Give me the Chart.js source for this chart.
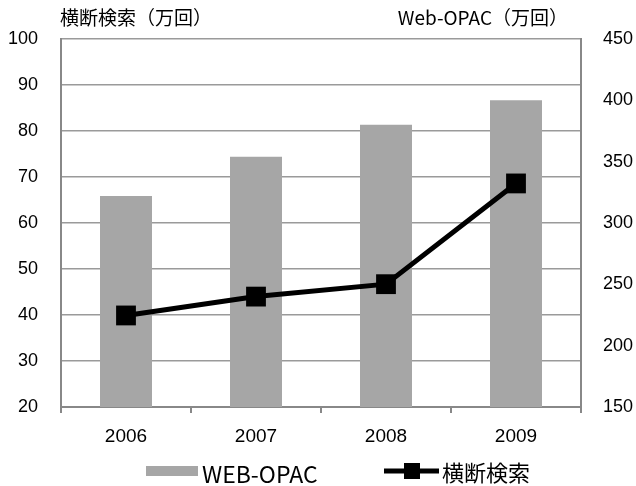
<!DOCTYPE html>
<html>
<head>
<meta charset="utf-8">
<script src="https://cdn.jsdelivr.net/npm/chart.js@4"></script>
<style>
    body { margin: 0; background: #fff; }
</style>
</head>
<body>
<canvas id="chart" width="636" height="486"></canvas>
<script>
const years = ["2006", "2007", "2008", "2009"];
const webOpac = [322, 354, 380, 400];        // 万回, right axis
const crossSearch = [39.9, 44.0, 46.7, 68.6]; // 万回, left axis

const leftTitle = "横断検索（万回）";
const rightTitle = "Web-OPAC（万回）";
const barLabel = "WEB-OPAC";
const lineLabel = "横断検索";

const numFont = { family: "'Liberation Sans', 'Noto Sans CJK JP'", size: 18 };
const jpFont = "'Noto Sans CJK JP', sans-serif";

// axis titles above the plot and the legend under it
const extras = {
    id: "extras",
    afterDraw(chart) {
        const ctx = chart.ctx;
        const area = chart.chartArea;
        ctx.save();
        ctx.fillStyle = "#000";
        ctx.font = "19px " + jpFont;
        ctx.textBaseline = "middle";
        ctx.textAlign = "left";
        ctx.fillText(leftTitle, area.left - 1, 18);
        ctx.textAlign = "right";
        ctx.fillText(rightTitle, area.right - 13, 18);

        // legend
        ctx.fillStyle = "#a6a6a6";
        ctx.fillRect(146, 466, 52, 10);
        ctx.fillStyle = "#000";
        ctx.font = "23px " + jpFont;
        ctx.textAlign = "left";
        ctx.fillText(barLabel, 202, 474);

        ctx.strokeStyle = "#000";
        ctx.lineWidth = 5;
        ctx.beginPath();
        ctx.moveTo(384, 471);
        ctx.lineTo(439, 471);
        ctx.stroke();
        ctx.fillRect(404, 463, 16, 16);
        ctx.font = "22px " + jpFont;
        ctx.fillText(lineLabel, 442, 473);
        ctx.restore();
    }
};

new Chart(document.getElementById("chart"), {
    type: "bar",
    data: {
        labels: years,
        datasets: [
            {
                type: "line",
                label: lineLabel,
                data: crossSearch,
                yAxisID: "y",
                order: 0,
                borderColor: "#000",
                borderWidth: 5,
                pointStyle: "rect",
                pointRadius: 14,
                pointBackgroundColor: "#000",
                pointBorderWidth: 0,
                tension: 0
            },
            {
                type: "bar",
                label: barLabel,
                data: webOpac,
                yAxisID: "y1",
                order: 1,
                backgroundColor: "#a6a6a6",
                barPercentage: 0.4,
                categoryPercentage: 1
            }
        ]
    },
    options: {
        responsive: false,
        animation: false,
        layout: { padding: { top: 39, bottom: 44, left: 0, right: 0 } },
        plugins: {
            legend: { display: false },
            tooltip: { enabled: false }
        },
        scales: {
            x: {
                grid: {
                    drawOnChartArea: false,
                    drawTicks: true,
                    tickLength: 6,
                    color: "#888",
                    lineWidth: 2
                },
                border: { color: "#888", width: 2 },
                ticks: { color: "#000", font: { ...numFont, size: 19 }, padding: 12 },
                afterFit(scale) { scale.height = 35; }
            },
            y: {
                position: "left",
                min: 20,
                max: 100,
                grid: { color: "#9a9a9a", lineWidth: 1.5, drawTicks: false },
                border: { color: "#888", width: 2 },
                ticks: { stepSize: 10, color: "#000", font: numFont, padding: 23 },
                afterFit(scale) { scale.width = 61; }
            },
            y1: {
                position: "right",
                min: 150,
                max: 450,
                grid: { display: false, drawTicks: false },
                border: { color: "#888", width: 2 },
                ticks: { stepSize: 50, color: "#000", font: numFont, padding: 22 },
                afterFit(scale) { scale.width = 55; }
            }
        }
    },
    plugins: [extras]
});
</script>
</body>
</html>
